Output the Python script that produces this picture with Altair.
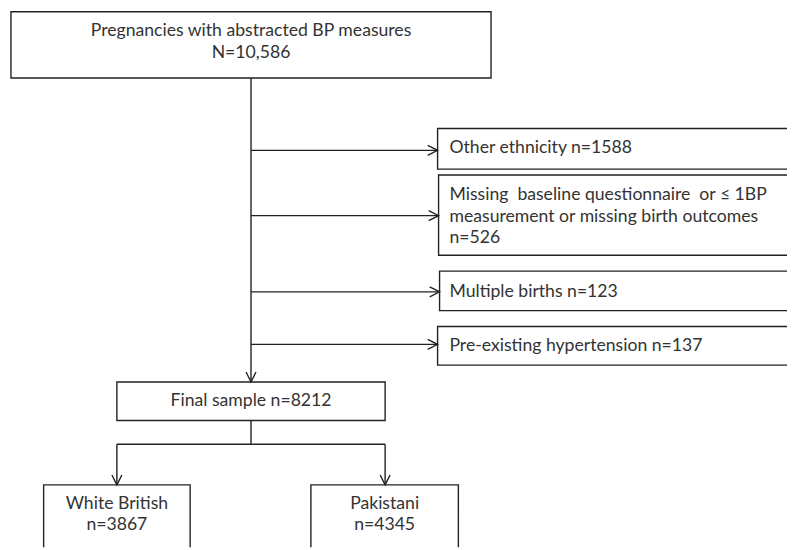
import altair as alt
import pandas as pd

# ---- text content ----
top_lines = ["Pregnancies with abstracted BP measures", "N=10,586"]
excl_lines = [
    ["Other ethnicity n=1588"],
    ["Missing \u00a0baseline questionnaire \u00a0or \u2264 1BP",
     "measurement or missing birth outcomes", "n=526"],
    ["Multiple births n=123"],
    ["Pre-existing hypertension n=137"],
]
final_lines = ["Final sample n=8212"]
group_lines = [["White British", "n=3867"], ["Pakistani", "n=4345"]]

# ---- layout (page pixel coordinates) ----
top_box = (11, 496, 9, 76)
excl_x0 = [442, 443, 444, 442]
excl_x1 = 800
excl_y = [(127, 168), (174, 255), (271, 311), (327, 366)]
excl_arrow_y = [149, 215, 292, 345]
excl_baselines = [[152], [199, 221, 243], [297], [352]]
final_box = (118, 389, 383, 422)
group_boxes = [(44, 192, 487, 600), (314, 463, 487, 600)]
spine_x = 253.5
branch_y = 446

FONT = "Lato"
FS = 17.8
INK = "#222222"
TXT = "#333333"

boxes = [dict(x=top_box[0], x2=top_box[1], y=top_box[2], y2=top_box[3])]
for x0, (y0, y1) in zip(excl_x0, excl_y):
    boxes.append(dict(x=x0, x2=excl_x1, y=y0, y2=y1))
boxes.append(dict(x=final_box[0], x2=final_box[1], y=final_box[2], y2=final_box[3]))
for b in group_boxes:
    boxes.append(dict(x=b[0], x2=b[1], y=b[2], y2=b[3]))
boxes_df = pd.DataFrame(boxes)

segs = [dict(x=spine_x, x2=spine_x, y=top_box[3], y2=final_box[2])]
for x0, ay in zip(excl_x0, excl_arrow_y):
    segs.append(dict(x=spine_x, x2=x0, y=ay, y2=ay))
segs.append(dict(x=spine_x, x2=spine_x, y=final_box[3], y2=branch_y))
segs.append(dict(x=final_box[0], x2=final_box[1], y=branch_y, y2=branch_y))
segs.append(dict(x=final_box[0], x2=final_box[0], y=branch_y, y2=group_boxes[0][2]))
segs.append(dict(x=final_box[1], x2=final_box[1], y=branch_y, y2=group_boxes[1][2]))
segs_df = pd.DataFrame(segs)

heads = [dict(x=x0, y=ay, angle=0) for x0, ay in zip(excl_x0, excl_arrow_y)]
heads.append(dict(x=spine_x, y=final_box[2], angle=90))
heads.append(dict(x=final_box[0], y=group_boxes[0][2], angle=90))
heads.append(dict(x=final_box[1], y=group_boxes[1][2], angle=90))
heads_df = pd.DataFrame(heads)

center_txt = []
for t, yb in zip(top_lines, [33, 56]):
    center_txt.append(dict(x=(top_box[0] + top_box[1]) / 2, y=yb, text=t))
center_txt.append(dict(x=(final_box[0] + final_box[1]) / 2, y=407, text=final_lines[0]))
for lines, b in zip(group_lines, group_boxes):
    for t, yb in zip(lines, [511, 533]):
        center_txt.append(dict(x=(b[0] + b[1]) / 2, y=yb, text=t))
center_df = pd.DataFrame(center_txt)

left_txt = []
for lines, bls in zip(excl_lines, excl_baselines):
    for t, yb in zip(lines, bls):
        left_txt.append(dict(x=454, y=yb, text=t))
left_df = pd.DataFrame(left_txt)

xs = alt.Scale(domain=[8, 795], nice=False, zero=False)
ys = alt.Scale(domain=[8, 550], nice=False, zero=False, reverse=True)
X = lambda f="x": alt.X(f"{f}:Q", scale=xs, axis=None)
Y = lambda f="y": alt.Y(f"{f}:Q", scale=ys, axis=None)

box_layer = alt.Chart(boxes_df).mark_rect(
    fill="white", stroke=INK, strokeWidth=1.4, clip=True
).encode(x=X(), x2="x2:Q", y=Y(), y2="y2:Q")

seg_layer = alt.Chart(segs_df).mark_rule(
    color=INK, strokeWidth=1.4, clip=True
).encode(x=X(), x2="x2:Q", y=Y(), y2="y2:Q")

head_layer = alt.Chart(heads_df).mark_point(
    shape="M-2,-1L0,0L-2,1", filled=False, stroke=INK, strokeWidth=1.4,
    size=100, opacity=1
).encode(x=X(), y=Y(), angle=alt.Angle("angle:Q", scale=None))

ctext = alt.Chart(center_df).mark_text(
    align="center", baseline="alphabetic", font=FONT, fontSize=FS, color=TXT
).encode(x=X(), y=Y(), text="text:N")

ltext = alt.Chart(left_df).mark_text(
    align="left", baseline="alphabetic", font=FONT, fontSize=FS, color=TXT
).encode(x=X(), y=Y(), text="text:N")

chart = alt.layer(box_layer, seg_layer, head_layer, ctext, ltext).properties(
    width=787, height=542, padding=0, autosize=alt.AutoSizeParams(type="none"),
    background="white"
).configure_view(strokeWidth=0)

chart.save("out.html", embed_options={"renderer": "svg", "actions": False})
